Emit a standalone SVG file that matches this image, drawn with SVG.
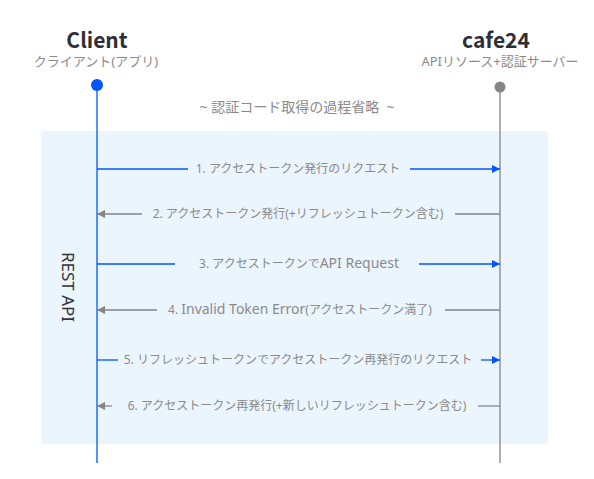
<svg xmlns="http://www.w3.org/2000/svg" width="594" height="479" viewBox="0 0 594 479">
<defs>
<style>
text{font-family:"Noto Sans","Noto Sans CJK JP",sans-serif;}
.title{font-family:"Noto Sans CJK JP","Noto Sans",sans-serif;font-size:21px;font-weight:700;fill:#2e2f36;text-anchor:middle;}
.sub{font-size:13px;fill:#8a8a8a;text-anchor:middle;}
.msg{font-size:12px;fill:#8a8a8a;text-anchor:middle;white-space:pre;}
.lat{font-size:14px;}
.note{font-size:14px;fill:#8a8a8a;text-anchor:middle;white-space:pre;}
.blue{stroke:#0055ff;stroke-width:1.3;fill:none;}
.gray{stroke:#858585;stroke-width:1.3;fill:none;}
</style>
<marker id="ab" viewBox="0 0 10 10" refX="10" refY="5" markerWidth="8" markerHeight="10" markerUnits="userSpaceOnUse" orient="auto"><path d="M0,0 L10,5 L0,10 Z" fill="#0055ff"/></marker>
<marker id="ag" viewBox="0 0 10 10" refX="10" refY="5" markerWidth="8" markerHeight="10" markerUnits="userSpaceOnUse" orient="auto"><path d="M0,0 L10,5 L0,10 Z" fill="#858585"/></marker>
</defs>
<rect width="594" height="479" fill="#ffffff"/>
<g id="restapi">
<rect x="41" y="131" width="507" height="313" rx="4" fill="#ebf5fe"/>
<text transform="translate(62,287) rotate(90)" font-size="17" fill="#333" text-anchor="middle">REST API</text>
</g>
<g id="note">
<text class="note" x="297" y="112">~ 認証コード取得の過程省略  ~</text>
</g>
<g id="client">
<text class="title" x="97" y="48">Client</text>
<text class="sub" x="96" y="66">クライアント(アプリ)</text>
<line class="blue" x1="97" y1="85" x2="97" y2="463"/>
<circle cx="97" cy="85" r="6" fill="#0055ff"/>
</g>
<g id="cafe24">
<text class="title" x="496" y="48">cafe24</text>
<text class="sub" x="500" y="66">APIリソース+認証サーバー</text>
<line class="gray" x1="500" y1="87" x2="500" y2="463"/>
<circle cx="500" cy="87" r="5.5" fill="#858585"/>
</g>
<g id="connectors">
<line class="blue" x1="97" y1="169" x2="188" y2="169"/>
<line class="blue" x1="410" y1="169" x2="500" y2="169" marker-end="url(#ab)"/>
<text class="msg" x="298" y="173">1. アクセストークン発行のリクエスト</text>

<line class="gray" x1="500" y1="214" x2="455" y2="214"/>
<line class="gray" x1="142" y1="214" x2="97" y2="214" marker-end="url(#ag)"/>
<text class="msg" x="298" y="218">2. アクセストークン発行(+リフレッシュトークン含む)</text>

<line class="blue" x1="97" y1="264" x2="175" y2="264"/>
<line class="blue" x1="419" y1="264" x2="500" y2="264" marker-end="url(#ab)"/>
<text class="msg" x="299" y="268">3. アクセストークンで<tspan class="lat">API Request</tspan></text>

<line class="gray" x1="500" y1="310" x2="445" y2="310"/>
<line class="gray" x1="157" y1="310" x2="97" y2="310" marker-end="url(#ag)"/>
<text class="msg" x="300" y="314">4. <tspan class="lat">Invalid Token Error</tspan>(アクセストークン満了)</text>

<line class="blue" x1="97" y1="360" x2="118" y2="360"/>
<line class="blue" x1="481" y1="360" x2="500" y2="360" marker-end="url(#ab)"/>
<text class="msg" x="298" y="364">5. リフレッシュトークンでアクセストークン再発行のリクエスト</text>

<line class="gray" x1="500" y1="406" x2="478" y2="406"/>
<line class="gray" x1="112" y1="406" x2="97" y2="406" marker-end="url(#ag)"/>
<text class="msg" x="297" y="410">6. アクセストークン再発行(+新しいリフレッシュトークン含む)</text>
</g>
</svg>
